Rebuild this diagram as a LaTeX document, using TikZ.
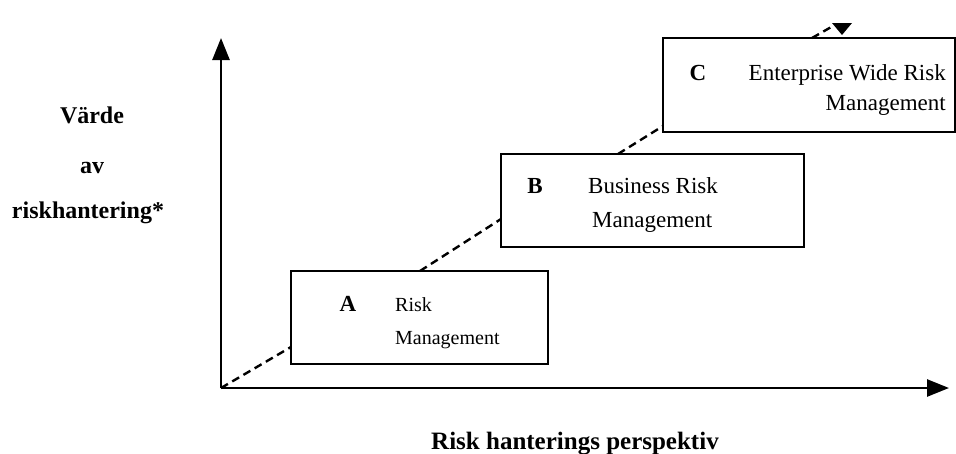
\documentclass[tikz,border=0pt]{standalone}
\usepackage{fontspec}
\setmainfont{Liberation Serif}
\usetikzlibrary{arrows.meta,calc}
\begin{document}
\begin{tikzpicture}[x=1pt,y=-1pt,
  axis/.style={line width=2.6pt,-{Triangle[length=22pt,width=17pt]}},
  stagebox/.style={draw,line width=2.4pt,fill=white,inner sep=0pt,outer sep=0pt,anchor=north west},
  dashline/.style={line width=2.4pt,dash pattern=on 8pt off 5pt},
  boldlbl/.style={inner sep=0pt,font=\fontsize{24}{24}\selectfont\bfseries},
  letterA/.style={inner sep=0pt,anchor=base,font=\fontsize{23}{23}\selectfont\bfseries},
  small/.style={inner sep=0pt,anchor=base west,font=\fontsize{20}{20}\selectfont},
  big/.style={inner sep=0pt,font=\fontsize{23}{23}\selectfont}
]
\useasboundingbox (0,0) rectangle (956,453);
% axes
\coordinate (O) at (221,388);
\coordinate (Ytip) at (221,38);
\coordinate (Xtip) at (949,388);
\draw[axis] (O) -- (Ytip);
\draw[axis] (O) -- (Xtip);
% boxes
\node[stagebox,minimum width=257pt,minimum height=93pt] (A) at (291,271) {};
\node[stagebox,minimum width=303pt,minimum height=93pt] (B) at (501,154) {};
\node[stagebox,minimum width=292pt,minimum height=94pt] (C) at (663,38) {};
% dashed path pieces
\coordinate (Tl) at (833,26);
\draw[dashline] (O) -- ($(A.south west)+(0,-17)$);
\draw[dashline] ($(A.north west)+(129,0)$) -- ($(B.south west)+(0,-28)$);
\draw[dashline] ($(B.north west)+(117,0)$) -- ($(C.south west)+(0,-6)$);
\draw[dashline] ($(C.north west)+(149,0)$) -- (Tl);
% top triangle
\coordinate (T) at (842,35);
\fill (T) -- ++(-10,-12) -- ++(20,0) -- cycle;
% box A text
\node[letterA] (la) at (348,311) {A};
\node[small] (ta1) at (395,311) {Risk};
\node[small] (ta2) at (395,344) {Management};
% box B text
\node[letterA] (lb) at (535,193) {B};
\node[big,anchor=base west] (tb1) at (588,193) {Business Risk};
\node[big,anchor=base west] (tb2) at (592,227) {Management};
% box C text
\node[letterA] (lc) at (698,80) {C};
\node[big,anchor=base east] (tc1) at (946,80) {Enterprise Wide Risk};
\node[big,anchor=base east] (tc2) at (946,110) {Management};
% axis labels
\node[boldlbl,anchor=base] (v1) at (92,123) {Värde};
\node[boldlbl,anchor=base] (v2) at (92,173) {av};
\node[boldlbl,anchor=base] (v3) at (88,218) {riskhantering*};
\node[boldlbl,anchor=base,font=\fontsize{25}{25}\selectfont\bfseries] (xl) at (575,449) {Risk hanterings perspektiv};
\end{tikzpicture}
\end{document}
